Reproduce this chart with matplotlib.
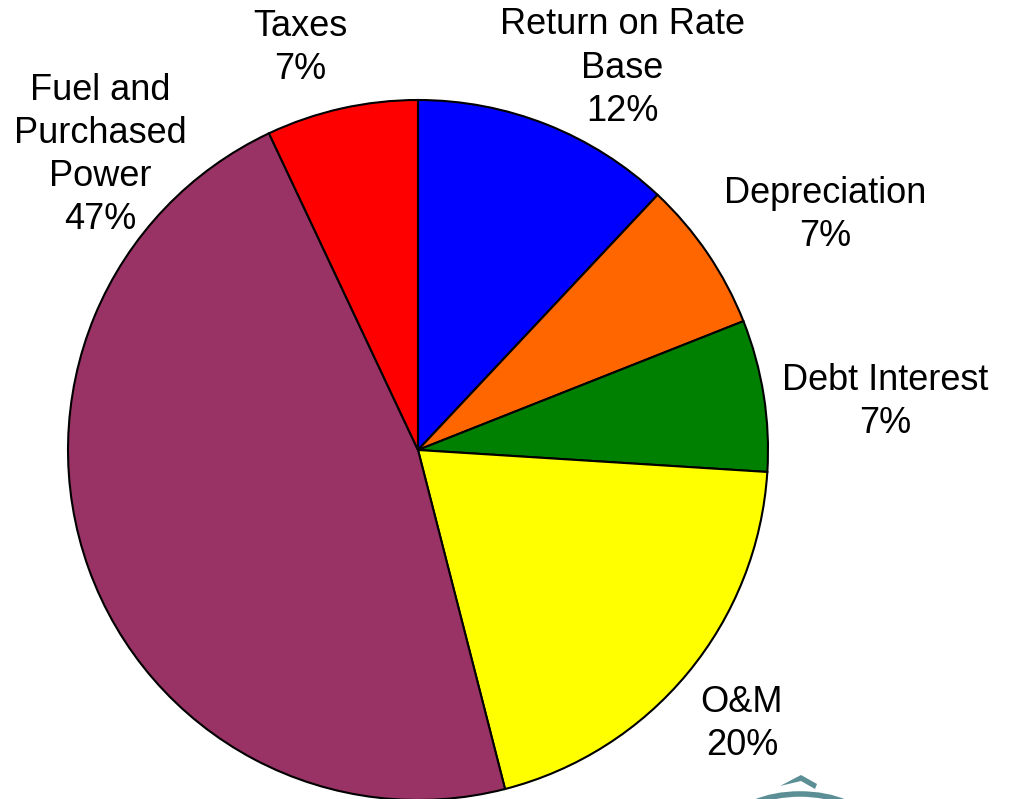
import matplotlib.pyplot as plt
from matplotlib.patches import Polygon, Ellipse

# componentes del costo
categorias = ["Return on Rate\nBase", "Depreciation", "Debt Interest", "O&M",
              "Fuel and\nPurchased\nPower", "Taxes"]
valores = [12, 7, 7, 20, 47, 7]
colores = ["#0000FF", "#FF6600", "#008000", "#FFFF00", "#993366", "#FF0000"]

# posición de cada etiqueta (en pixeles de la figura, y desde abajo)
pos_etiquetas = [(622, 731), (825, 584), (885, 397), (742, 75), (100, 644), (300, 751)]

plt.rcParams['font.family'] = ['Liberation Sans', 'DejaVu Sans']

fig = plt.figure(figsize=(10.11, 7.99), dpi=100)
ax = fig.add_axes([0, 0, 1, 1])

ax.pie(valores, colors=colores, startangle=90, counterclock=False,
       center=(418, 349), radius=350, frame=True,
       wedgeprops=dict(edgecolor="black", linewidth=1.5))
ax.set_xlim(0, 1011)
ax.set_ylim(0, 799)
ax.set_aspect("equal")
ax.axis("off")

for cat, v, (x, y) in zip(categorias, valores, pos_etiquetas):
    ax.text(x, y, f"{cat}\n{v}%", ha="center", va="center", fontsize=26,
            linespacing=1.3, color="black")

# logo parcial abajo a la derecha
teal = "#5B8F95"
ax.add_patch(Ellipse((800, -25), 130, 60, facecolor="none", edgecolor=teal, linewidth=4))
ax.add_patch(Polygon([(780, 13), (801, 24), (817, 15), (815, 10), (801, 18)],
                     closed=True, facecolor=teal, edgecolor="none"))

fig.savefig("out.png", dpi=100)
